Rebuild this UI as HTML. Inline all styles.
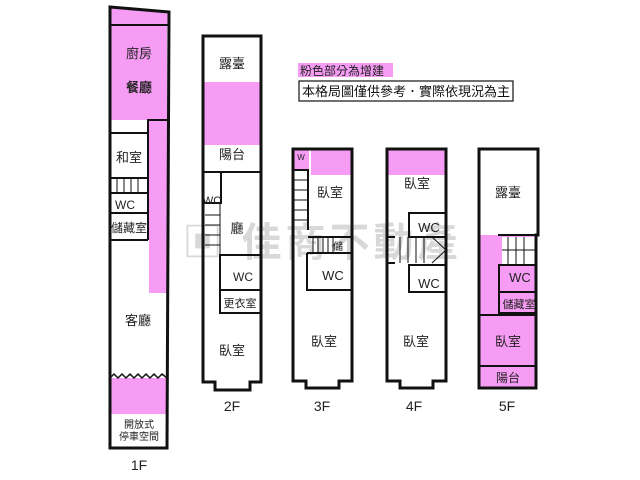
<!DOCTYPE html>
<html><head><meta charset="utf-8"><style>
html,body{margin:0;padding:0;background:#fff}
svg{display:block}
text{font-family:"Liberation Sans","Noto Sans CJK TC",sans-serif;fill:#222}
</style></head><body>
<svg width="640" height="480" viewBox="0 0 640 480" xmlns="http://www.w3.org/2000/svg">
<!-- watermark -->
<text x="322" y="256" font-size="40" font-weight="bold" text-anchor="middle" style="fill:#d8d8d8" letter-spacing="4">▣ 佳商不動產</text>

<g stroke="#111" stroke-width="3" fill="none">
<!-- 1F -->
<rect x="110" y="25" width="57" height="95" fill="#f79cf4" stroke="none"/>
<polygon points="110,7 169,12 167,25 110,25" fill="#f79cf4" stroke="none"/>
<rect x="149" y="120" width="18" height="173" fill="#f79cf4" stroke="none"/>
<rect x="110" y="378" width="57" height="36" fill="#f79cf4" stroke="none"/>
<polygon points="110,7 169,12 167,448 110,448"/>
<line x1="110" y1="25" x2="168" y2="25" stroke-width="2"/>
<polyline points="148,240 148,120 167,120" stroke-width="2"/>
<line x1="110" y1="133" x2="148" y2="133" stroke-width="2"/>
<line x1="110" y1="178" x2="148" y2="178" stroke-width="2"/>
<line x1="110" y1="193" x2="148" y2="193" stroke-width="2"/>
<line x1="110" y1="213" x2="148" y2="213" stroke-width="2"/>
<line x1="110" y1="240" x2="148" y2="240" stroke-width="2"/>
<g stroke-width="1"><line x1="117" y1="178" x2="117" y2="193"/><line x1="124" y1="178" x2="124" y2="193"/><line x1="131" y1="178" x2="131" y2="193"/><line x1="138" y1="178" x2="138" y2="193"/></g>
<polyline points="110,378 114,374 118,378 122,374 126,378 130,374 134,378 138,374 142,378 146,374 150,378 154,374 158,378 162,374 167,378" stroke-width="1.5"/>
<!-- 2F -->
<rect x="204" y="82" width="57" height="63" fill="#f79cf4" stroke="none"/>
<polygon points="203,36 261,36 261,382 250,382 250,390 215,390 215,382 203,382"/>
<line x1="203" y1="172" x2="261" y2="172" stroke-width="2"/>
<polyline points="221,172 221,203 203,203" stroke-width="2"/>
<polyline points="261,255 220,255 220,313 261,313" stroke-width="2"/>
<line x1="220" y1="290" x2="261" y2="290" stroke-width="2"/>
<g stroke-width="1"><line x1="205" y1="215" x2="220" y2="215"/><line x1="205" y1="225" x2="220" y2="225"/><line x1="205" y1="235" x2="220" y2="235"/><line x1="205" y1="245" x2="220" y2="245"/><line x1="220" y1="203" x2="220" y2="255"/></g>
<!-- 3F -->
<rect x="311" y="149" width="41" height="26" fill="#f79cf4" stroke="none"/>
<rect x="294" y="149" width="15" height="21" fill="#f79cf4" stroke="none"/>
<polygon points="293,149 352,149 352,381 339,381 339,388 306,388 306,381 293,381"/>
<polyline points="293,170 308,170 308,230" stroke-width="2"/>
<polyline points="308,237 352,237" stroke-width="2"/>
<polyline points="307,253 352,253" stroke-width="2"/>
<polyline points="307,253 307,290 352,290" stroke-width="2"/>
<g stroke-width="1"><line x1="294" y1="180" x2="308" y2="180"/><line x1="294" y1="190" x2="308" y2="190"/><line x1="294" y1="200" x2="308" y2="200"/><line x1="294" y1="210" x2="308" y2="210"/><line x1="294" y1="220" x2="308" y2="220"/><line x1="313" y1="237" x2="313" y2="253"/><line x1="318" y1="237" x2="318" y2="253"/><line x1="323" y1="237" x2="323" y2="253"/><line x1="328" y1="237" x2="328" y2="253"/><line x1="333" y1="237" x2="333" y2="253"/></g>
<!-- 4F -->
<rect x="388" y="149" width="58" height="26" fill="#f79cf4" stroke="none"/>
<polygon points="387,149 446,149 446,381 433,381 433,388 400,388 400,381 387,381"/>
<polyline points="446,213 409,213 409,237 446,237" stroke-width="2"/>
<polyline points="387,237 395,237" stroke-width="2"/>
<polyline points="387,263 395,263" stroke-width="2"/>
<polyline points="446,265 409,265 409,292 446,292" stroke-width="2"/>
<g stroke-width="1"><line x1="400" y1="237" x2="400" y2="263"/><line x1="408" y1="237" x2="408" y2="263"/><line x1="416" y1="237" x2="416" y2="263"/><line x1="424" y1="237" x2="424" y2="263"/><polyline points="432,237 446,250 432,263"/></g>
<!-- 5F -->
<rect x="480" y="235" width="57" height="152" fill="#f79cf4" stroke="none"/>
<rect x="502" y="237" width="34" height="27" fill="#fff" stroke="none"/>
<polygon points="479,149 538,149 538,235 536,235 536,388 479,388"/>
<polyline points="479,235 538,235" stroke-width="0" />
<line x1="498" y1="235" x2="538" y2="235" stroke-width="2"/>
<polyline points="536,265 499,265 499,313 536,313" stroke-width="2"/>
<line x1="499" y1="292" x2="536" y2="292" stroke-width="2"/>
<line x1="479" y1="315" x2="536" y2="315" stroke-width="2"/>
<line x1="479" y1="366" x2="536" y2="366" stroke-width="2"/>
<g stroke-width="1"><line x1="508" y1="237" x2="508" y2="264"/><line x1="516" y1="237" x2="516" y2="264"/><line x1="524" y1="237" x2="524" y2="264"/><line x1="502" y1="250" x2="536" y2="250"/></g>
<!-- legend -->
<rect x="299" y="81" width="214" height="20" stroke-width="1.2"/>
</g>
<rect x="298" y="63" width="95" height="14" fill="#f79cf4"/>

<g font-size="13" text-anchor="middle">
<text x="139" y="58">廚房</text>
<text x="139" y="92" font-weight="bold">餐廳</text>
<text x="129" y="162">和室</text>
<text x="125" y="209" font-size="12">WC</text>
<text x="129" y="232" font-size="12">儲藏室</text>
<text x="138" y="325">客廳</text>
<text x="139" y="428" font-size="10">開放式</text>
<text x="139" y="440" font-size="10">停車空間</text>
<text x="139" y="470" font-size="14">1F</text>

<text x="232" y="68">露臺</text>
<text x="232" y="159">陽台</text>
<text x="212" y="204" font-size="11">WC</text>
<text x="237" y="233">廳</text>
<text x="243" y="281" font-size="12">WC</text>
<text x="240" y="307" font-size="11">更衣室</text>
<text x="232" y="355">臥室</text>
<text x="232" y="411" font-size="14">2F</text>

<text x="330" y="197">臥室</text>
<text x="338" y="250" font-size="10">儲</text>
<text x="333" y="280" font-size="13">WC</text>
<text x="324" y="346">臥室</text>
<text x="322" y="411" font-size="14">3F</text>
<text x="301" y="160" font-size="8">W</text>

<text x="417" y="188">臥室</text>
<text x="429" y="232" font-size="13">WC</text>
<text x="429" y="288" font-size="13">WC</text>
<text x="416" y="346">臥室</text>
<text x="414" y="411" font-size="14">4F</text>

<text x="508" y="197">露臺</text>
<text x="520" y="282" font-size="13">WC</text>
<text x="519" y="308" font-size="11">儲藏室</text>
<text x="508" y="346">臥室</text>
<text x="508" y="382" font-size="12">陽台</text>
<text x="507" y="411" font-size="14">5F</text>
</g>
<text x="300" y="75" font-size="12" style="fill:#222">粉色部分為增建</text>
<text x="302" y="96" font-size="13" style="fill:#111">本格局圖僅供參考．實際依現況為主</text>
</svg>
</body></html>
